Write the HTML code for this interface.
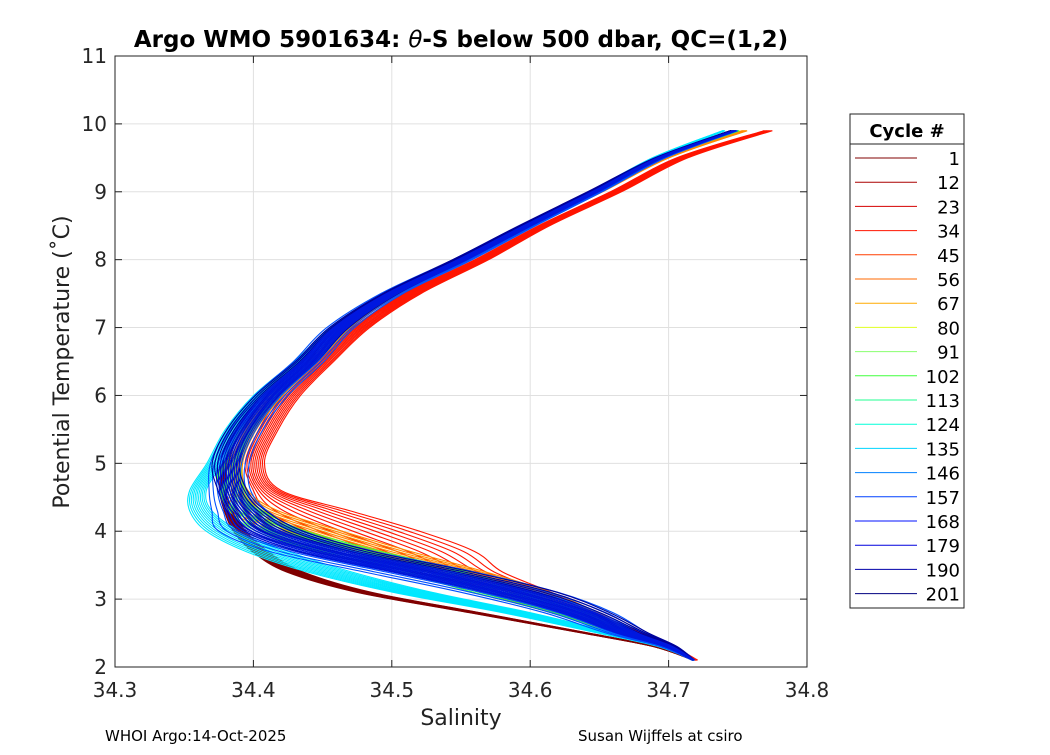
<!DOCTYPE html>
<html><head><meta charset="utf-8"><style>
body{margin:0;background:#fff;font-family:"Liberation Sans","DejaVu Sans",sans-serif}
svg text{font-family:"DejaVu Sans","Liberation Sans",sans-serif}
</style></head><body>
<svg id="c" width="1050" height="750">
<rect width="1050" height="750" fill="#fff"/>
<g id="grid"></g><g id="lines"></g>
<rect x="115" y="56" width="692" height="611" fill="none" stroke="#222" stroke-width="1"/>
<g id="ticks"></g>
<text x="461" y="47" font-size="23" font-weight="bold" text-anchor="middle">Argo WMO 5901634: <tspan font-style="italic" font-weight="normal">θ</tspan>-S below 500 dbar,  QC=(1,2)</text>
<text x="461" y="725" font-size="22" text-anchor="middle" fill="#222">Salinity</text>
<text transform="translate(69,362) rotate(-90)" font-size="22" text-anchor="middle" fill="#222">Potential Temperature (˚C)</text>
<text x="105" y="741" font-size="15">WHOI Argo:14-Oct-2025</text>
<text x="578" y="741" font-size="15">Susan Wijffels at csiro</text>
<g id="legend">
<rect x="850" y="114" width="114" height="494" fill="#fff" stroke="#222"/>
<line x1="850" x2="964" y1="144" y2="144" stroke="#222"/>
<text x="907" y="137" font-size="18" font-weight="bold" text-anchor="middle">Cycle #</text>
</g>
</svg>
<script>
const xTicks=[34.3,34.4,34.5,34.6,34.7,34.8];
const yTicks=[2,3,4,5,6,7,8,9,10,11];
const legendCycles=[1,12,23,34,45,56,67,80,91,102,113,124,135,146,157,168,179,190,201];
const legendColors=['#800000','#aa0000','#d40000','#ff1500','#ff3f00','#ff6a00','#ffaa00','#e0ff20','#8aff6f','#40ff3f','#20ff90','#00ffd8','#00d4ff','#0080ff','#0040ff','#0010ff','#0000dd','#0000aa','#000080'];
const tLevels=[9.9,9.5,9.0,8.5,8.0,7.5,7.0,6.5,6.0,5.5,5.0,4.6,4.3,4.0,3.7,3.4,3.1,2.8,2.5,2.3,2.1];
const salRed=[34.772,34.71,34.662,34.61,34.565,34.515,34.478,34.452,34.427,34.411,34.401,34.41,34.44,34.48,34.52,34.55,34.59,34.63,34.675,34.70,34.72];
const salDarkRed=[34.745,34.692,34.645,34.596,34.545,34.495,34.458,34.435,34.41,34.39,34.38,34.378,34.382,34.39,34.405,34.43,34.48,34.56,34.64,34.69,34.718];
const salOrange=[34.755,34.698,34.65,34.6,34.553,34.503,34.467,34.443,34.417,34.398,34.388,34.39,34.40,34.44,34.49,34.55,34.60,34.64,34.672,34.70,34.718];
const salGreen=[34.75,34.695,34.647,34.598,34.551,34.50,34.463,34.44,34.413,34.394,34.383,34.385,34.395,34.42,34.47,34.53,34.58,34.63,34.668,34.70,34.718];
const salCyan=[34.74,34.69,34.645,34.596,34.55,34.498,34.46,34.434,34.405,34.385,34.372,34.36,34.362,34.378,34.41,34.455,34.515,34.59,34.655,34.695,34.718];
const salBlue=[34.748,34.694,34.647,34.598,34.551,34.50,34.463,34.44,34.413,34.394,34.383,34.383,34.39,34.405,34.45,34.52,34.585,34.635,34.67,34.70,34.718];
const salNavy=[34.746,34.693,34.645,34.596,34.549,34.499,34.462,34.438,34.41,34.39,34.38,34.385,34.395,34.415,34.46,34.53,34.595,34.64,34.675,34.702,34.718];
const spread=[0.002,0.004,0.005,0.006,0.007,0.008,0.01,0.011,0.012,0.013,0.014,0.015,0.02,0.03,0.038,0.04,0.035,0.025,0.015,0.006,0.001];
const redSpread=[0.003,0.004,0.004,0.004,0.005,0.006,0.006,0.006,0.007,0.007,0.007,0.01,0.03,0.04,0.04,0.03,0.025,0.015,0.008,0.004,0.001];
const offsets=[-1,-0.8,-0.6,-0.4,-0.2,0,0.2,0.4,0.6,0.8,1];
const NS='http://www.w3.org/2000/svg';
const X=s=>115+(s-34.3)/0.5*692, Y=t=>667-(t-2)/9*611;
function mk(tag,attrs,parent){const e=document.createElementNS(NS,tag);for(const k in attrs)e.setAttribute(k,attrs[k]);parent.appendChild(e);return e;}
function smooth(pts){let d='M'+pts[0][0].toFixed(1)+','+pts[0][1].toFixed(1);
 for(let i=0;i<pts.length-1;i++){const p0=pts[Math.max(0,i-1)],p1=pts[i],p2=pts[i+1],p3=pts[Math.min(pts.length-1,i+2)];
  const c1=[p1[0]+(p2[0]-p0[0])/6,p1[1]+(p2[1]-p0[1])/6],c2=[p2[0]-(p3[0]-p1[0])/6,p2[1]-(p3[1]-p1[1])/6];
  d+='C'+c1.map(v=>v.toFixed(1)).join(',')+' '+c2.map(v=>v.toFixed(1)).join(',')+' '+p2[0].toFixed(1)+','+p2[1].toFixed(1);}
 return d;}
const grid=document.getElementById('grid'),ticks=document.getElementById('ticks'),lines=document.getElementById('lines'),leg=document.getElementById('legend');
xTicks.forEach(v=>{
 const g=mk('line',{x1:X(v),x2:X(v),y1:56,y2:667,stroke:'#e0e0e0'},grid);
 
 
 mk('line',{x1:X(v),x2:X(v),y1:667,y2:660,stroke:'#222'},ticks);
 mk('line',{x1:X(v),x2:X(v),y1:56,y2:63,stroke:'#222'},ticks);
 const t=mk('text',{x:X(v),y:697,'font-size':20,'text-anchor':'middle',fill:'#262626'},ticks);t.textContent=v.toFixed(1);
 
 
});
yTicks.forEach(v=>{
 const g=mk('line',{x1:115,x2:807,y1:Y(v),y2:Y(v),stroke:'#e0e0e0'},grid);
 
 
 mk('line',{x1:115,x2:122,y1:Y(v),y2:Y(v),stroke:'#222'},ticks);
 mk('line',{x1:800,x2:807,y1:Y(v),y2:Y(v),stroke:'#222'},ticks);
 const t=mk('text',{x:107,y:Y(v)+7,'font-size':20,'text-anchor':'end',fill:'#262626'},ticks);t.textContent=v;
 
 
});
const series=[[salRed,'#ff1500',redSpread,1],[salDarkRed,'#800000',spread,0.15],[salOrange,'#ff8c00',redSpread,0.6],[salGreen,'#40ff3f',spread,0.6],[salCyan,'#00e8ff',spread,0.4],[salBlue,'#0050ff',spread,1],[salNavy,'#000099',spread,0.7],[salBlue,'#0018e0',spread,0.5]];
series.forEach(([sal,col,spr,f])=>{
 offsets.forEach(o=>{
  const pts=sal.map((s,i)=>[X(s+o*f*spr[i]),Y(tLevels[i])]);
  const p=mk('path',{d:smooth(pts),fill:'none',stroke:col,'stroke-width':1.1,'stroke-linejoin':'round'},lines);
  
  
 });
});
legendCycles.forEach((c,i)=>{
 const y=158+i*24.2;
 const l=mk('line',{x1:855,x2:917,y1:y,y2:y,stroke:legendColors[i]},leg);
 
 
 const t=mk('text',{x:960,y:y+7,'font-size':18,'text-anchor':'end'},leg);t.textContent=c;
 
 
});
</script>
</body></html>
